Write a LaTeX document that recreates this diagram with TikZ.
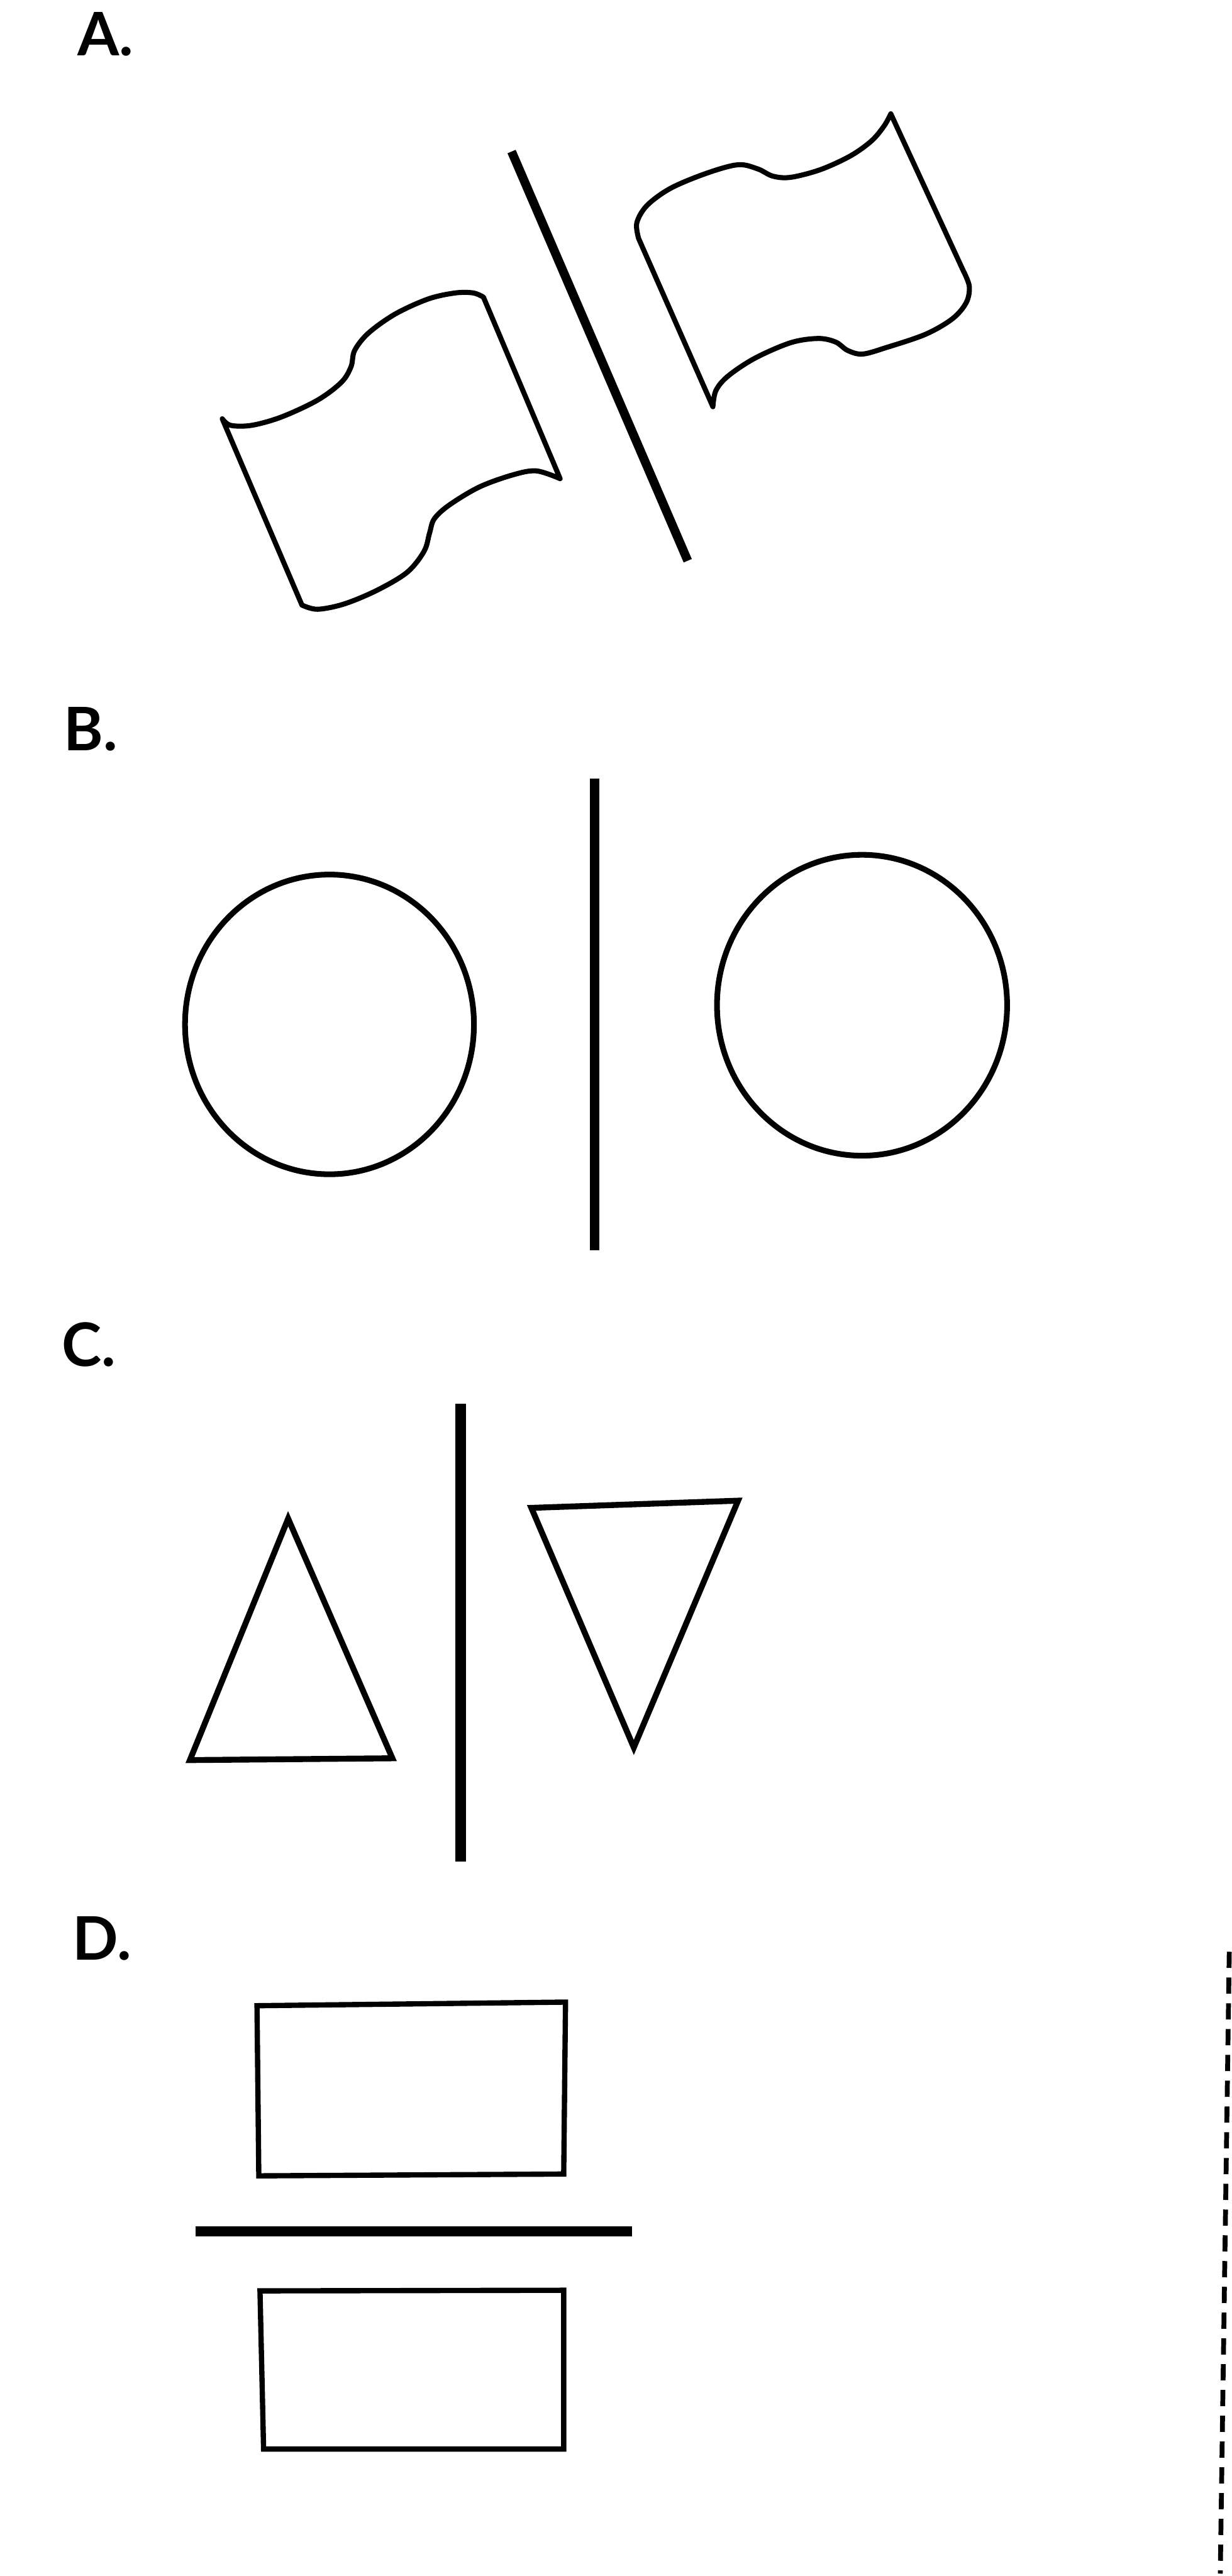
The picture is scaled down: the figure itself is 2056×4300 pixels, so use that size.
\documentclass[tikz,border=0pt]{standalone}
\usepackage{fontspec}
\setmainfont{Lato}
\begin{document}
\begin{tikzpicture}[x=0.01cm,y=-0.01cm,
  lab/.style={anchor=base west,inner sep=0pt,font=\fontsize{28.5}{30}\selectfont\bfseries},
  outline/.style={draw=black,line width=2.4pt,line join=round,line cap=round},
  bar/.style={draw=black,line width=4.4pt,line cap=butt},
  sharp/.style={draw=black,line width=2.8pt,line join=miter}]
\fill[white] (0,0) rectangle (2056,4300);
\useasboundingbox (0,0) rectangle (2056,4300);

% labels
\node[lab] (labA) at (129,93) {A.};
\node[lab] (labB) at (106,1253) {B.};
\node[lab] (labC) at (103,2281) {C.};
\node[lab] (labD) at (121,3272) {D.};

% A: flags
\draw[outline] (371,699) -- (504,1010)
  -- plot[smooth,tension=0.55] coordinates {(504,1010)(530,1017)(575,1008)(630,985)(680,955)(708,920)(717,890)(725,866)(750,843)(800,813)(855,793)(895,786)(935,799)}
  -- (807,496)
  -- plot[smooth,tension=0.55] coordinates {(807,496)(790,489)(760,489)(715,499)(660,524)(615,556)(592,585)(586,612)(570,638)(530,668)(470,696)(420,710)(385,710)(371,699)}
  -- cycle;
\draw[bar,line width=4.2pt] (854,253) -- (1148,936);
\draw[outline] (1487,190) -- (1608,452)
  -- plot[smooth,tension=0.55] coordinates {(1608,452)(1618,478)(1613,505)(1590,532)(1545,558)(1480,580)(1440,591)(1415,585)(1395,571)(1366,565)(1320,572)(1260,598)(1215,628)(1195,652)(1190,679)}
  -- (1066,398)
  -- plot[smooth,tension=0.55] coordinates {(1066,398)(1063,372)(1080,343)(1120,314)(1180,289)(1232,275)(1265,282)(1290,294)(1320,296)(1370,283)(1420,260)(1455,235)(1476,210)(1487,190)}
  -- cycle;

% B: circles
\draw[draw=black,line width=2.7pt] (550,1710) ellipse [x radius=2.41cm,y radius=2.50cm];
\draw[bar,line width=4.5pt] (993,1300) -- (993,2087);
\draw[draw=black,line width=2.7pt] (1439,1678) ellipse [x radius=2.42cm,y radius=2.51cm];

% C: triangles
\draw[sharp] (481,2535) -- (655,2935) -- (317,2938) -- cycle;
\draw[bar,line width=5pt] (769,2343) -- (769,3107);
\draw[sharp] (887,2517) -- (1232,2505) -- (1058,2917) -- cycle;

% D: rectangles
\draw[sharp,line width=2.5pt] (429,3348) -- (944,3342) -- (941,3629) -- (432,3632) -- cycle;
\draw[bar,line width=4.8pt] (326,3725) -- (1055,3725);
\draw[sharp,line width=2.5pt] (434,3824) -- (941,3823) -- (941,4088) -- (440,4088) -- cycle;

% dashed edge at right
\draw[draw=black,line width=2.3pt,dash pattern=on 0.27cm off 0.16cm] (2052,3258) -- (2037,4296);
\end{tikzpicture}
\end{document}
